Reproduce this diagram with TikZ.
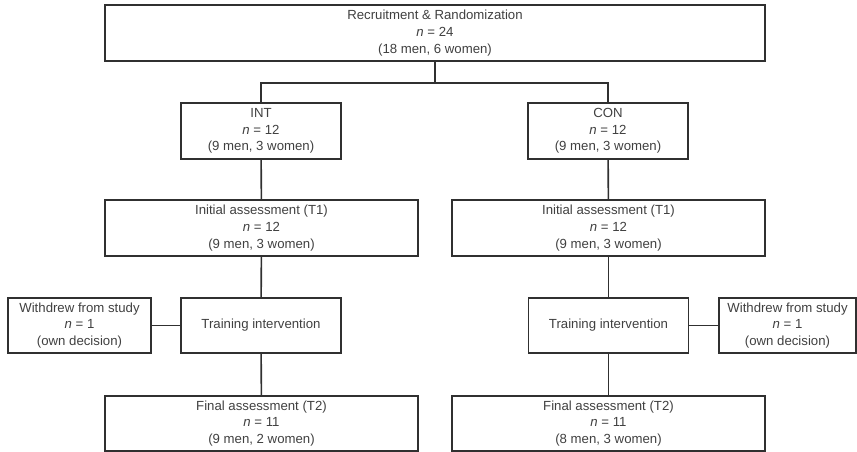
\documentclass[tikz,border=0pt]{standalone}
\usepackage{fontspec}
\setmainfont{Liberation Sans}
\usepackage{tikz}
\usetikzlibrary{positioning}

\definecolor{linegray}{HTML}{303030}
\definecolor{textgray}{HTML}{404040}

\begin{document}
\begin{tikzpicture}[x=1pt,y=-1pt]
	\tikzstyle{box}=[draw=linegray,line width=1.4pt,inner sep=0pt,align=center,text=textgray,font=\fontsize{13.2}{16.6}\selectfont,minimum height=56pt]
	\tikzstyle{link}=[draw=linegray,line width=1.6pt]
	\useasboundingbox (0,0) rectangle (857,452);
	\node[box,minimum width=660pt](recr) at (435,33) {Recruitment \& Randomization\\\textit{n} = 24\\(18 men, 6 women)};
	\node[box,minimum width=160pt](int) at (261,131) {INT\\\textit{n} = 12\\(9 men, 3 women)};
	\node[box,minimum width=160pt](con) at (608,131) {CON\\\textit{n} = 12\\(9 men, 3 women)};
	\node[box,minimum width=313pt](initL) at (261.5,228) {Initial assessment (T1)\\\textit{n} = 12\\(9 men, 3 women)};
	\node[box,minimum width=313pt](initR) at (608.5,228) {Initial assessment (T1)\\\textit{n} = 12\\(9 men, 3 women)};
	\node[box,minimum width=160pt,minimum height=55pt](trainL) at (261,325.5) {Training intervention};
	\node[box,minimum width=160pt,minimum height=55pt](trainR) at (608.5,325.5) {Training intervention};
	\node[box,minimum width=143pt,minimum height=55pt](dropL) at (79.5,325.5) {Withdrew from study\\\textit{n} = 1\\(own decision)};
	\node[box,minimum width=137pt,minimum height=55pt](dropR) at (787.5,325.5) {Withdrew from study\\\textit{n} = 1\\(own decision)};
	\node[box,minimum width=313pt,minimum height=55pt](finalL) at (261.5,423.5) {Final assessment (T2)\\\textit{n} = 11\\(9 men, 2 women)};
	\node[box,minimum width=313pt,minimum height=55pt](finalR) at (608.5,423.5) {Final assessment (T2)\\\textit{n} = 11\\(8 men, 3 women)};
	\coordinate (split) at (435,83);
	\path[link] (recr.south) -- (split);
	\path[link] (int.north) |- (split) -| (con.north);
	\path[link] (int) -- (initL);
	\path[link] (con) -- (initR);
	\path[link] (initL) -- (trainL);
	\path[link] (initR) -- (trainR);
	\path[link] (trainL) -- (finalL);
	\path[link] (trainR) -- (finalR);
	\path[link] (dropL) -- (trainL);
	\path[link] (trainR) -- (dropR);
\end{tikzpicture}
\end{document}
